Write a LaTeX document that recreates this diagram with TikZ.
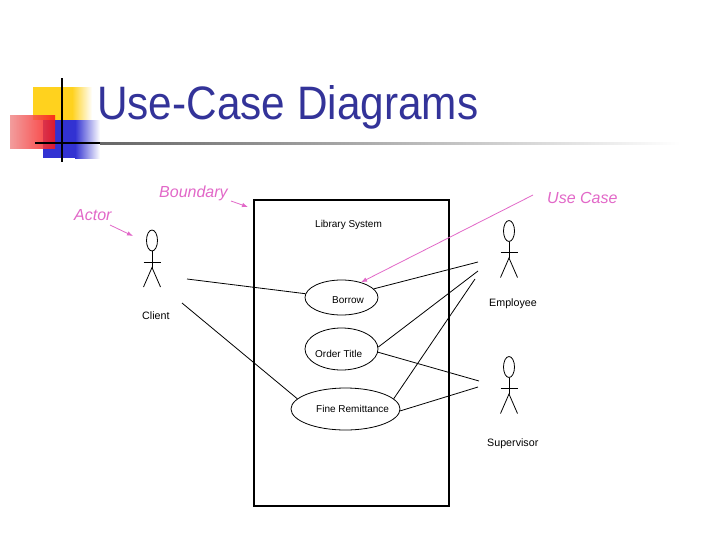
\documentclass[tikz,border=0pt]{standalone}
\usepackage{graphicx}
\usepackage{fontspec}
\setmainfont{Liberation Sans}
\usetikzlibrary{shapes.geometric,arrows.meta}
\definecolor{titleblue}{RGB}{51,51,153}
\definecolor{annopink}{RGB}{226,104,200}
\definecolor{logoyellow}{RGB}{255,210,30}
\definecolor{logoblue}{RGB}{50,50,210}
\definecolor{logored}{RGB}{250,20,20}
\definecolor{logopink}{RGB}{240,140,140}
\begin{document}
\begin{tikzpicture}[x=1pt,y=-1pt,
  conn/.style={draw=black, line width=0.8pt},
  ucase/.style={ellipse, draw=black, line width=0.8pt, inner sep=0pt},
  boxtext/.style={anchor=base west, inner sep=0pt, font=\fontsize{10}{12}\selectfont},
  actlabel/.style={anchor=base west, inner sep=0pt, font=\fontsize{10.7}{13}\selectfont},
  annot/.style={anchor=base west, inner sep=0pt, text=annopink, font=\fontsize{16}{19}\selectfont\itshape},
  annoarrow/.style={draw=annopink, line width=0.8pt, -{Latex[length=6pt,width=4.5pt]}},
  actor/.pic={
    \draw[line width=0.8pt] (0,0) ellipse [x radius=5.5pt, y radius=10.5pt];
    \draw[line width=0.8pt] (0,10.5) -- (0,27);
    \draw[line width=0.8pt] (-8.5,21.5) -- (8.5,21.5);
    \draw[line width=0.8pt] (-8.5,46.5) -- (0,27) -- (8.5,46.5);
  }
]
\useasboundingbox[fill=white] (0,0) rectangle (728,546);

% logo
\fill[logoyellow] (33,87) rectangle (72,120);
\shade[left color=logoyellow, right color=white] (72,87) rectangle (92,120);
\fill[logoblue] (43,120) rectangle (75,158);
\shade[left color=logoblue, right color=white] (75,120) rectangle (100,158);
\shade[left color=logopink, right color=logored, opacity=0.85] (10,115) rectangle (55,148);
\draw[line width=1.8pt] (62,78) -- (62,162);
\fill[black] (35,142) rectangle (100,144);
\shade[left color=black!60, middle color=black!70, right color=white] (100,142) rectangle (680,144);

% title
\node[anchor=base west, inner sep=0pt, text=titleblue] (title) at (97,119)
  {\resizebox{381pt}{34pt}{Use-Case Diagrams}};

% system boundary and use cases
\node[draw=black, line width=1.2pt, minimum width=195pt, minimum height=306pt, inner sep=0pt] (boundary) at (351.5,353) {};
\node[boxtext] (libsys) at (315,227.5) {Library System};
\node[ucase, minimum width=73pt, minimum height=35pt] (borrow) at (341.5,297.5) {};
\node[ucase, minimum width=73pt, minimum height=42pt] (order) at (341.5,349) {};
\node[ucase, minimum width=109pt, minimum height=42pt] (fine) at (345.5,409) {};
\node[boxtext] (borrowtxt) at (332,303.5) {Borrow};
\node[boxtext] (ordertxt) at (315,357.5) {Order Title};
\node[boxtext] (finetxt) at (316,412.5) {Fine Remittance};

% actors
\pic (clientfig) at (152,240.5) {actor};
\pic (employeefig) at (509,231) {actor};
\pic (supervisorfig) at (509,367) {actor};
\node[actlabel] (clientlbl) at (142,319) {Client};
\node[actlabel] (employeelbl) at (489,306) {Employee};
\node[actlabel] (supervisorlbl) at (487,446) {Supervisor};

% free ends of associations
\coordinate (cl-a) at (187,279);
\coordinate (cl-b) at (182,303);
\coordinate (em-a) at (478,262);
\coordinate (em-b) at (478,271);
\coordinate (em-c) at (475,279);
\coordinate (su-a) at (479,381);
\coordinate (su-b) at (478,387);

\draw[conn] (cl-a) -- (borrow.174);
\draw[conn] (cl-b) -- (fine.168);
\draw[conn] (borrow.15) -- (em-a);
\draw[conn] (order.3) -- (em-b);
\draw[conn] (fine.12) -- (em-c);
\draw[conn] (order.-5) -- (su-a);
\draw[conn] (fine.-2) -- (su-b);

% annotations
\node[annot] (actorlbl) at (74,220.5) {Actor};
\node[annot] (boundarylbl) at (159,197) {Boundary};
\node[annot] (usecaselbl) at (547,203) {Use Case};
\coordinate (actor-tail) at (110,225);
\coordinate (actor-tip) at (133,236);
\coordinate (bnd-tail) at (231,201);
\coordinate (bnd-tip) at (248,207);
\coordinate (uc-tail) at (533,195);
\draw[annoarrow] (actor-tail) -- (actor-tip);
\draw[annoarrow] (bnd-tail) -- (bnd-tip);
\draw[annoarrow] (uc-tail) -- (borrow.38);
\end{tikzpicture}
\end{document}
